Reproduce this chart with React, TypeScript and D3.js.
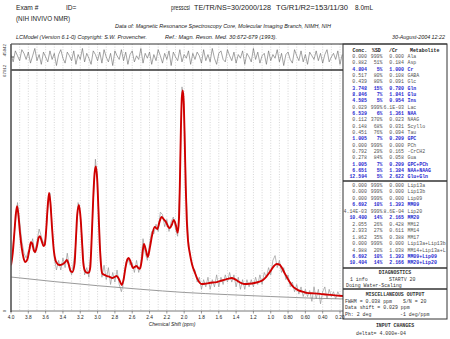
import React from 'react';
import * as d3 from 'd3';

// ---- data ----
const fitPpm = [4.0,3.98,3.96,3.945,3.93,3.915,3.895,3.875,3.855,3.835,3.81,3.79,3.77,3.755,3.735,3.72,3.7,3.68,3.665,3.645,3.625,3.61,3.595,3.575,3.56,3.545,3.525,3.505,3.485,3.47,3.45,3.43,3.4,3.375,3.355,3.335,3.31,3.29,3.265,3.25,3.235,3.215,3.195,3.18,3.165,3.145,3.12,3.1,3.085,3.065,3.05,3.035,3.02,3.005,2.99,2.975,2.96,2.945,2.92,2.89,2.86,2.83,2.8,2.78,2.75,2.72,2.7,2.68,2.655,2.64,2.615,2.59,2.57,2.55,2.53,2.51,2.49,2.465,2.44,2.42,2.395,2.37,2.34,2.31,2.285,2.26,2.235,2.21,2.185,2.165,2.14,2.12,2.095,2.075,2.06,2.05,2.038,2.026,2.015,2.004,1.993,1.982,1.97,1.955,1.935,1.91,1.875,1.84,1.8,1.76,1.71,1.67,1.625,1.58,1.54,1.5,1.45,1.415,1.38,1.34,1.3,1.25,1.19,1.14,1.09,1.05,1.01,0.96,0.93,0.9,0.87,0.835,0.79,0.74,0.7,0.66,0.62,0.585,0.5,0.43,0.35,0.28,0.165];
const fitVal = [19,24,33,40,43.5,40,32,26,22,20.3,21.5,25,28.5,28,25,24.5,27,30.5,31,29,27,27.5,33,44,49,45,34,25,21,19.9,19.2,19.1,19.5,20.3,21.2,19.5,16.5,16.2,20,30,40,44,38,29,20,16.6,15.8,16,18,33,47,57,60,55,42,28,19,15.5,15,14.5,14.2,13.7,14.2,14.5,13,10.8,13,17.5,21.5,22,20,17.8,18.3,18.7,17.8,17.5,21,27.8,25,22.4,26.5,31.5,34.9,34,37,39,38,36.9,35,34.4,36,37.8,35.5,32.5,38,52,75,89,91.5,86,70,52,38,29,24,19.5,15.8,12.8,11.2,11.3,11.6,11.8,12,12.5,12.9,13.3,13.7,13.2,12.4,11.6,11.2,11.3,11.6,12.1,12.9,14.3,16.2,18.8,19.5,19.3,17.8,15.4,12.6,10,9,8.3,7.9,7.5,7.3,7.1,6.8,6.6,6.2];

const rawStartPpm = 4.0;
const rawStepPpm = 0.025;
const rawVal = [17,28,36,45,37,29,24,22,25,26,30,24,29,34,31,28,30,42,49,35,22,17,21,17,22,18,24,18,15,21,28,45,40,28,15,18,14,26,45,63,53,30,14,19,13,18,11,16,12,17,11,8,12,20,22,19,20,16,21,16,20,30,24,21,28,33,32,36,33,41,40,35,38,33,37,39,34,31,52,93,82,47,29,22,18,17,12,14,9,13,10,14,9,13,10,15,10,14,11,15,12,16,12,15,10,14,9,13,9,13,10,13,10,14,11,15,11,16,14,18,15,21,23,18,21,16,18,13,15,10,12,8,11,7,10,6,9,6,8.5,4,10,5,9,3,8,10,5,9,6,8,5,8,6];

const residVal = [2,-4,5,1,-3,6,3,-2,4,-5,1,7,-3,2,-6,4,0,-4,5,-2,3,-7,2,6,-1,-5,4,1,-3,5,-6,2,-2,7,-4,3,-1,-6,5,2,-3,4,-5,6,0,-4,3,-7,5,1,-2,6,-3,4,-6,2,5,-4,1,-2,7,-5,3,-1,4,-6,2,-3,6,1,-5,3,-2,5,-7,4,0,-3,6,-4,2,-1,5,-6,3,-2,4,1,-5,6,-3,2,-4,7,-1,-6,3,5,-2,-4,6,1,-3,4,-5,2,-1,5,-6,3,0,-4,7,-2,4,-5,1,3,-6,5,-3,2,-1,6,-4,3,-7,2,4,-2,-5,6,1,-3,5,-4,2,-6,4,1,-2,5,-3,3,-5,2,6,-4,0,3,-2,5,-6,2];

const basePpm = [4.0,3.5,3.0,2.5,2.0,1.5,1.0,0.5,0.165];
const baseVal = [14.1,12.2,10.5,9.0,7.7,6.8,6.0,5.3,5.0];

const xTickVals = [4.0,3.8,3.6,3.4,3.2,3.0,2.8,2.6,2.4,2.2,2.0,1.8,1.6,1.4,1.2,1.0,0.8,0.6,0.4,0.2];
const xTickLabels = ['4.0','3.8','3.6','3.4','3.2','3.0','2.8','2.6','2.4','2.2','2.0','1.8','1.6','1.4','1.2','1.0','0.80','0.60','0.40','0.20'];

const concCol = ['0.000','0.882','4.804','0.517','0.439','3.748','8.846','4.585','0.029','6.539','0.112','0.148','0.451','1.005','0.000','0.792','0.278','1.005','6.651','12.594'];
const sdCol = ['999%','51%','5%','80%','80%','15%','7%','5%','999%','6%','370%','68%','76%','7%','999%','29%','84%','7%','5%','5%'];
const ratioCol = ['0.000','0.184','1.000','0.108','0.091','0.780','1.841','0.954','6.1E-03','1.361','0.023','0.031','0.094','0.209','0.000','0.165','0.058','0.209','1.384','2.622'];
const nameCol = ['Ala','Asp','Cr','GABA','Glc','Gln','Glu','Ins','Lac','NAA','NAAG','Scyllo','Tau','GPC','PCh','-CrCH2','Gua','GPC+PCh','NAA+NAAG','Glu+Gln'];
const goodCol = [0,0,1,0,0,1,1,1,0,1,0,0,0,1,0,0,0,1,1,1];

const conc2 = ['0.000','0.000','0.000','6.692','4.14E-03','10.400','2.055','2.933','1.862','0.000','4.988','6.692','10.404'];
const sd2 = ['999%','999%','999%','10%','999%','14%','26%','27%','35%','999%','20%','10%','14%'];
const ratio2 = ['0.000','0.000','0.000','1.393','8.6E-04','2.165','0.428','0.611','0.388','0.000','1.038','1.393','2.166'];
const name2 = ['Lip13a','Lip13b','Lip09','MM09','Lip20','MM20','MM12','MM14','MM17','Lip13a+Lip13b','MM14+Lip13a+L','MM09+Lip09','MM20+Lip20'];
const good2 = [0,0,0,1,0,1,0,0,0,0,0,1,1];

export default function App() {
  const L = 11, R = 343, TOP = 44, MID = 70, BOT = 311;
  const x = d3.scaleLinear().domain([4.0, 0.2]).range([L, 340]);
  const y = d3.scaleLinear().domain([0, 100]).range([BOT, MID]);
  const yr = d3.scaleLinear().domain([-9, 9]).range([68, 46]);

  const fitLine = d3.line<number>().x((_, i) => x(fitPpm[i])).y((d) => y(d)).curve(d3.curveMonotoneX);
  const rawLine = d3.line<number>().x((_, i) => x(rawStartPpm - i * rawStepPpm)).y((d) => y(d));
  const residLine = d3.line<number>().x((_, i) => x(rawStartPpm - i * rawStepPpm)).y((d) => yr(d));
  const baseLine = d3.line<number>().x((_, i) => x(basePpm[i])).y((d) => y(d)).curve(d3.curveMonotoneX);

  const grid = d3.range(39, 0, -1).map((k) => k / 10).filter((p) => p < 4.0 && p >= 0.2);

  const sans = 'Liberation Sans, Arial, sans-serif';
  const mono = 'Liberation Mono, Courier New, monospace';
  const blue = '#2a2ad0';
  const grey = '#555';
  const fs = 4.9;

  const row = (c: string, s: string, r: string, n: string, g: number, yy: number, key: string) => (
    <g key={key} fill={g ? blue : grey} fontWeight={g ? 'bold' : 'normal'} fontFamily={mono} fontSize={fs}>
      <text x={367} y={yy} textAnchor="end">{c}</text>
      <text x={382.5} y={yy} textAnchor="end">{s}</text>
      <text x={404} y={yy} textAnchor="end">{r}</text>
      <text x={407.5} y={yy}>{n}</text>
    </g>
  );

  return (
    <svg width={450} height={339} style={{ position: 'absolute', left: 0, top: 0, background: '#fff' }}>
      <defs>
        <clipPath id="plotclip"><rect x={L} y={MID} width={R - L} height={BOT - MID} /></clipPath>
        <clipPath id="resclip"><rect x={L} y={TOP} width={R - L} height={MID - TOP} /></clipPath>
      </defs>
      <rect x={0} y={0} width={450} height={339} fill="#fff" />

      {/* header */}
      <g fontFamily={sans} fill="#222">
        <text x={16} y={10} fontSize={6.6}>Exam #</text>
        <text x={66} y={10} fontSize={6.6}>ID=</text>
        <text x={171} y={10} fontSize={6.3} textLength={19} lengthAdjust="spacingAndGlyphs">presscsi</text>
        <text x={194} y={10} fontSize={6.6} textLength={77} lengthAdjust="spacingAndGlyphs">TE/TR/NS=30/2000/128</text>
        <text x={276} y={10} fontSize={6.6} textLength={72} lengthAdjust="spacingAndGlyphs">TG/R1/R2=153/11/30</text>
        <text x={355} y={10} fontSize={6.6} textLength={18} lengthAdjust="spacingAndGlyphs">8.0mL</text>
        <text x={16} y={21} fontSize={6.3}>(NIH INVIVO NMR)</text>
        <text x={115} y={28} fontSize={5.3} fontStyle="italic" textLength={216} lengthAdjust="spacingAndGlyphs">Data of: Magnetic Resonance Spectroscopy Core, Molecular Imaging Branch, NIMH, NIH</text>
        <text x={16} y={39} fontSize={5.3} fontStyle="italic" textLength={131} lengthAdjust="spacingAndGlyphs">LCModel (Version 6.1-0) Copyright: S.W. Provencher.</text>
        <text x={165} y={39} fontSize={5.3} fontStyle="italic" textLength={112} lengthAdjust="spacingAndGlyphs">Ref.: Magn. Reson. Med. 30:672-679 (1993).</text>
        <text x={392} y={39} fontSize={5.3} fontStyle="italic" textLength={53} lengthAdjust="spacingAndGlyphs">30-August-2004  12:22</text>
      </g>

      {/* gridlines */}
      <g stroke="#b8b8b8" strokeWidth={0.6} strokeDasharray="1,1.6">
        {grid.map((p) => (
          <line key={'g' + p} x1={x(p)} x2={x(p)} y1={MID} y2={BOT} />
        ))}
        {grid.map((p) => (
          <line key={'gr' + p} x1={x(p)} x2={x(p)} y1={TOP} y2={MID} />
        ))}
      </g>

      {/* residual */}
      <path d={residLine(residVal) || ''} fill="none" stroke="#666" strokeWidth={0.6} clipPath="url(#resclip)" />
      <line x1={L} x2={L + 3} y1={yr(0)} y2={yr(0)} stroke="#333" strokeWidth={0.8} />

      {/* main plot */}
      <g clipPath="url(#plotclip)">
        <path d={baseLine(baseVal) || ''} fill="none" stroke="#9a9a9a" strokeWidth={1} />
        <path d={rawLine(rawVal) || ''} fill="none" stroke="#8a8a8a" strokeWidth={0.6} />
        <path d={fitLine(fitVal) || ''} fill="none" stroke="#d00000" strokeWidth={1.9} strokeLinejoin="round" />
      </g>

      {/* frames */}
      <line x1={L} x2={447} y1={TOP} y2={TOP} stroke="#333" strokeWidth={1} />
      <line x1={L} x2={R} y1={MID} y2={MID} stroke="#333" strokeWidth={1.6} />
      <line x1={L} x2={R} y1={BOT} y2={BOT} stroke="#555" strokeWidth={0.8} />
      <line x1={L} x2={L} y1={TOP} y2={BOT + 1} stroke="#555" strokeWidth={1.6} />

      {/* x axis */}
      <g fontFamily={sans} fontSize={4.8} fill="#222">
        {xTickVals.map((v, i) => (
          <g key={'t' + i}>
            <line x1={x(v)} x2={x(v)} y1={BOT} y2={BOT + 2.5} stroke="#555" strokeWidth={0.6} />
            <text x={x(v)} y={BOT + 8} textAnchor="middle">{xTickLabels[i]}</text>
          </g>
        ))}
        <text x={172} y={325.5} textAnchor="middle" fontStyle="italic" fontSize={5}>Chemical Shift (ppm)</text>
      </g>

      {/* y labels */}
      <g fontFamily={sans} fontSize={4.4} fill="#333">
        <text transform={`translate(6,${TOP}) rotate(-90)`} textAnchor="end">45942</text>
        <text transform={`translate(6,77) rotate(-90)`} textAnchor="start">67912</text>
        <text transform={`translate(6,${BOT}) rotate(-90)`} textAnchor="middle">0</text>
      </g>

      {/* right table */}
      <rect x={R} y={TOP} width={447 - R} height={319 - TOP} fill="none" stroke="#333" strokeWidth={1} />
      <line x1={R} x2={447} y1={181} y2={181} stroke="#333" strokeWidth={1.4} />
      <line x1={R} x2={447} y1={268} y2={268} stroke="#333" strokeWidth={1.4} />
      <line x1={R} x2={447} y1={289} y2={289} stroke="#333" strokeWidth={1.4} />

      <g fontFamily={mono} fontSize={fs} fill="#222" fontWeight="bold">
        <text x={352.5} y={51.5}>Conc.</text>
        <text x={372} y={51.5}>%SD</text>
        <text x={389} y={51.5}>/Cr</text>
        <text x={410} y={51.5}>Metabolite</text>
      </g>
      {concCol.map((c, i) => row(c, sdCol[i], ratioCol[i], nameCol[i], goodCol[i], 58 + i * 6.33, 'a' + i))}
      {conc2.map((c, i) => row(c, sd2[i], ratio2[i], name2[i], good2[i], 187 + i * 6.45, 'b' + i))}

      <g fontFamily={mono} fontSize={fs} fill="#333">
        <text x={395} y={274} textAnchor="middle" fontWeight="bold">DIAGNOSTICS</text>
        <text x={350} y={280.5}>1 info</text>
        <text x={389} y={280.5}>STARTV 20</text>
        <text x={346} y={287}>Doing Water-Scaling</text>
        <text x={395} y={296} textAnchor="middle" fontWeight="bold">MISCELLANEOUS OUTPUT</text>
        <text x={345} y={302.5}>FWHM = 0.038 ppm</text>
        <text x={403} y={302.5}>S/N =  20</text>
        <text x={345} y={309}>Data shift = 0.029 ppm</text>
        <text x={345} y={315.5}>Ph:   2 deg</text>
        <text x={400} y={315.5}>-1 deg/ppm</text>
        <text x={395} y={327} textAnchor="middle" fontWeight="bold">INPUT CHANGES</text>
        <text x={356} y={334.5}>deltat= 4.000e-04</text>
      </g>
    </svg>
  );
}
